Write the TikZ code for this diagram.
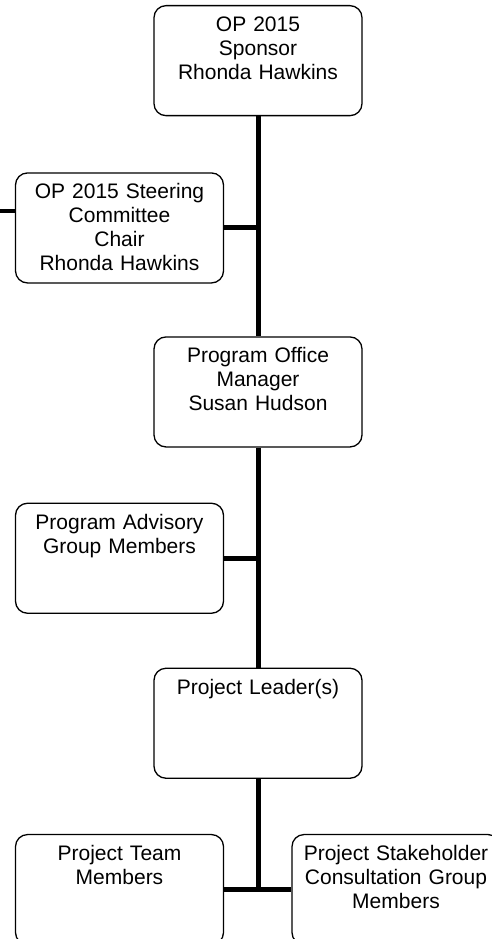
\documentclass[tikz,border=0pt]{standalone}
\usepackage{fontspec}
\setmainfont{Liberation Sans}
\usetikzlibrary{positioning}

\begin{document}
\begin{tikzpicture}[x=1pt,y=1pt,
font=\fontsize{21}{24}\selectfont,
unit/.style={draw,line width=1.3pt,rounded corners=12pt,fill=white,
  text width=208pt,align=center,inner xsep=0pt,inner ysep=0pt,
  text height=26pt,text depth=84pt},
link/.style={black,line width=5pt}]
\useasboundingbox (0,0) rectangle (492,-939);
\node[unit,anchor=north] (spons) at (258,-5) {OP 2015\\Sponsor\\Rhonda Hawkins};
\node[unit,below=56pt of spons.south,xshift=-138.5pt] (steer) {OP 2015 Steering\\Committee\\Chair\\Rhonda Hawkins};
\node[unit,below=220pt of spons] (office) {Program Office\\Manager\\Susan Hudson};
\node[unit,below=55pt of office.south,xshift=-138.5pt] (advis) {Program Advisory\\Group Members};
\node[unit,below=220pt of office] (lead) {Project Leader(s)};
\node[unit,below=55pt of lead.south,xshift=-138.5pt] (team) {Project Team\\Members};
\node[unit,below=55pt of lead.south,xshift=138pt] (stake) {Project Stakeholder\\Consultation Group\\Members};
\coordinate (outl) at (0,-211);
\draw[link] (spons.south) -- (office.north);
\draw[link] (office.south) -- (lead.north);
\draw[link] (lead.south) -- (lead.south |- team.east);
\draw[link] (steer.east) -- (steer.east -| spons.south);
\draw[link] (advis.east) -- (advis.east -| office.south);
\draw[link] (team.east) -- (stake.west);
\draw[link,line width=4pt] (steer.west |- outl) -- (outl);
\end{tikzpicture}
\end{document}
